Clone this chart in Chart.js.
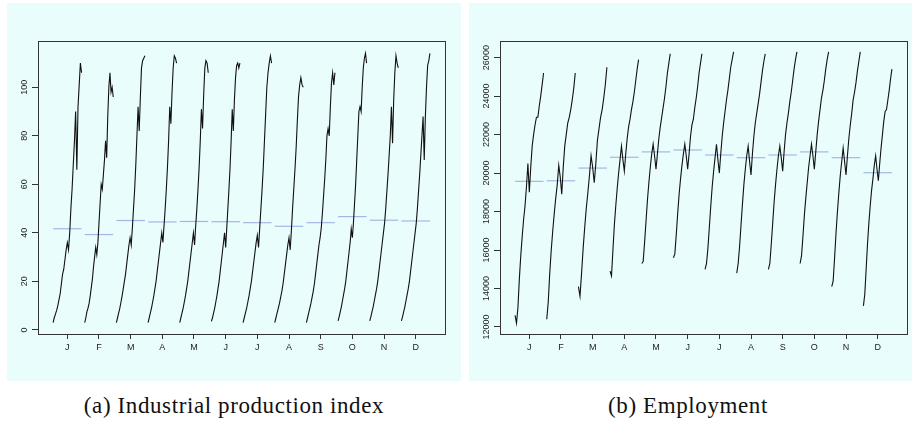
<!DOCTYPE html>
<html>
<head>
<meta charset="utf-8">
<script src="https://cdn.jsdelivr.net/npm/chart.js@4"></script>
<style>
  body { margin: 0; background: #fff; width: 912px; height: 425px; position: relative; overflow: hidden; }
  .panel { position: absolute; top: 3px; height: 378px; background: #e9fdfd; }
  #p1 { left: 7px; width: 454px; }
  #p2 { left: 469px; width: 443px; }
  .cap { position: absolute; top: 393px; font-family: "Liberation Serif", serif; font-size: 23px; letter-spacing: 0.6px;
         color: #111; white-space: nowrap; transform: translateX(-50%); }
</style>
</head>
<body>
<div class="panel" id="p1"><canvas id="ipChart" width="454" height="378"></canvas></div>
<div class="panel" id="p2"><canvas id="empChart" width="443" height="378"></canvas></div>
<div class="cap" style="left:234px">(a) Industrial production index</div>
<div class="cap" style="left:688px">(b) Employment</div>
<script>
// month labels on the x axis
const months = ['J', 'F', 'M', 'A', 'M', 'J', 'J', 'A', 'S', 'O', 'N', 'D'];

// (a) industrial production index, one subseries per month
const ipJan = [3, 5, 6.5, 8, 10, 12.5, 15, 19, 23, 25, 29, 33, 36, 33, 40, 50, 58, 68, 78, 90, 66, 92, 101, 110, 106];
const ipFeb = [3, 5, 7.5, 9, 11, 14, 17.5, 21, 26, 30, 34, 31, 36, 44, 52, 60, 58, 64, 70, 78, 71, 88, 100, 106, 98, 100, 96];
const ipMar = [3, 5, 7, 9, 11.5, 14, 17, 20, 23, 27, 31, 35, 38, 35, 42, 50, 58, 68, 80, 92, 82, 96, 108, 111, 112, 113];
const ipApr = [3, 5, 7, 9, 11.5, 14, 17, 20, 24, 28, 32, 36, 40, 36, 43, 50, 58, 67, 78, 92, 85, 98, 108, 113, 112, 110];
const ipMay = [3, 5, 7, 9, 11.5, 14, 17, 20, 24, 28, 32, 36, 40, 35, 43, 50, 58, 67, 78, 91, 83, 97, 108, 111, 110, 106];
const ipJun = [3.5, 5, 7, 9, 11.5, 14, 17, 20, 24, 28, 32, 36, 40, 34, 42, 50, 58, 67, 78, 91, 82, 95, 104, 109, 110, 108, 110];
const ipJul = [3, 5, 7, 9, 11.5, 14, 17, 20, 24, 28, 32, 36, 39, 34, 42, 50, 58, 67, 78, 89, 100, 106, 110, 113, 110];
const ipAug = [3, 5, 7, 9, 11, 13.5, 16, 19, 23, 27, 31, 35, 38, 33, 41, 50, 58, 66, 75, 86, 96, 101, 104, 101, 100];
const ipSep = [3, 5, 7, 9, 11, 13.5, 16, 19, 23, 27, 31, 35, 38, 42, 48, 55, 62, 70, 80, 83, 80, 92, 102, 106, 101, 106];
const ipOct = [3.7, 5.5, 7.5, 9.5, 12, 14.5, 17, 20, 24, 28, 32, 36, 41.6, 38, 44, 52, 60, 70, 80, 90, 92, 90, 100, 108, 112, 114, 110];
const ipNov = [3.7, 5.5, 7.5, 9.5, 12, 14.5, 17, 20, 24, 28, 32, 36, 40, 44, 50, 57, 64, 72, 80, 92, 77, 95, 106, 113, 110, 108];
const ipDec = [3.7, 5.5, 7.5, 9.5, 12, 14.5, 17, 20, 24, 28, 32, 36, 40, 44, 50, 57, 64, 72, 80, 88, 70, 88, 100, 109, 111, 114];
const ipMeans = [41.7, 39.3, 45.1, 44.5, 44.7, 44.6, 44.2, 42.7, 44.2, 46.7, 45.2, 44.9];
const ipTicks = [0, 20, 40, 60, 80, 100];

// (b) employment
const empJan = [12600, 12200, 13000, 14500, 15700, 16700, 17600, 18300, 19300, 20500, 19000, 20300, 21400, 22000, 22500, 22900, 22900, 23500, 24000, 24600, 25200];
const empFeb = [12400, 13300, 14800, 16000, 17000, 17900, 18700, 19400, 20400, 19800, 18900, 20300, 21400, 22000, 22600, 22900, 23300, 23800, 24400, 25200];
const empMar = [14100, 13600, 14800, 16100, 17200, 18200, 19000, 19900, 20900, 20300, 19500, 20500, 21700, 22300, 22900, 23300, 23900, 24600, 25500];
const empApr = [14900, 14650, 16000, 17300, 18300, 19200, 20000, 20700, 21400, 20700, 20100, 21000, 21800, 22400, 22800, 23300, 23700, 24200, 24800, 25400, 25900];
const empMay = [15300, 15400, 16400, 17500, 18600, 19500, 20300, 21000, 21500, 20900, 20200, 21000, 21800, 22400, 22900, 23400, 23900, 24500, 25200, 25700, 26200];
const empJun = [15600, 15800, 16800, 17900, 18900, 19700, 20400, 21000, 21500, 20900, 20200, 21000, 21900, 22500, 22800, 23400, 23900, 24500, 25200, 25700, 26200];
const empJul = [15000, 15300, 16100, 17200, 18300, 19300, 20100, 20800, 21500, 20700, 20000, 21000, 21900, 22600, 23200, 23800, 24300, 24900, 25500, 25900, 26300];
const empAug = [14800, 15300, 16200, 17300, 18400, 19400, 20200, 20900, 21400, 20600, 19900, 21000, 21900, 22600, 23100, 23600, 24100, 24700, 25300, 25800, 26200];
const empSep = [15000, 15300, 16300, 17400, 18500, 19400, 20200, 20900, 21400, 20800, 20100, 21100, 22000, 22600, 23100, 23700, 24200, 24800, 25400, 25900, 26300];
const empOct = [15300, 15700, 16700, 17800, 18700, 19500, 20300, 20900, 21500, 20900, 20200, 21100, 22000, 22700, 23300, 23900, 24300, 24800, 25400, 25900, 26300];
const empNov = [14100, 14400, 15600, 16900, 18000, 19000, 19900, 20600, 21300, 20600, 19900, 20900, 21800, 22500, 23100, 23800, 24200, 24700, 25300, 25800, 26300];
const empDec = [13100, 13700, 15000, 16300, 17400, 18300, 19100, 19700, 20400, 20900, 20200, 19600, 20500, 21300, 22000, 22700, 23200, 23300, 23800, 24300, 24900, 25400];
const empMeans = [19570, 19600, 20260, 20820, 21100, 21200, 20940, 20800, 20940, 21100, 20800, 20020];
const empTicks = [12000, 14000, 16000, 18000, 20000, 22000, 24000, 26000];

const ipSeries = [ipJan, ipFeb, ipMar, ipApr, ipMay, ipJun, ipJul, ipAug, ipSep, ipOct, ipNov, ipDec];
const empSeries = [empJan, empFeb, empMar, empApr, empMay, empJun, empJul, empAug, empSep, empOct, empNov, empDec];

// box round the plot + vertical y tick labels (like R's las=0)
const boxPlugin = {
  id: 'box',
  afterDraw(chart, args, opts) {
    const ctx = chart.ctx;
    const a = chart.chartArea;
    ctx.save();
    ctx.strokeStyle = '#333';
    ctx.lineWidth = 1;
    ctx.strokeRect(Math.round(a.left) + 0.5, Math.round(a.top) + 0.5,
                   Math.round(a.right - a.left), Math.round(a.bottom - a.top));
    const ys = chart.scales.y;
    ctx.fillStyle = '#222';
    ctx.font = '9px "Liberation Sans", Arial, sans-serif';
    ctx.textAlign = 'center';
    ctx.textBaseline = 'middle';
    opts.ticks.forEach(v => {
      ctx.save();
      ctx.translate(a.left - opts.offset, ys.getPixelForValue(v));
      ctx.rotate(-Math.PI / 2);
      ctx.fillText(String(v), 0, 0);
      ctx.restore();
    });
    ctx.restore();
  }
};

function makePanel(id, series, means, yTicks, yMin, yMax, rightPad) {
  const datasets = [];
  series.forEach((vals, i) => {
    const n = vals.length;
    datasets.push({
      data: vals.map((v, k) => ({ x: i + 1 - 0.45 + 0.9 * k / (n - 1), y: v })),
      showLine: true, borderColor: '#111', borderWidth: 1.1, pointRadius: 0, order: 0
    });
    datasets.push({
      data: [{ x: i + 0.55, y: means[i] }, { x: i + 1.45, y: means[i] }],
      showLine: true, borderColor: 'rgba(150,165,220,0.8)', borderWidth: 1.2, pointRadius: 0, order: 1
    });
  });

  new Chart(document.getElementById(id), {
    type: 'scatter',
    data: { datasets: datasets },
    options: {
      responsive: false,
      animation: false,
      events: [],
      layout: { padding: { top: 38, right: rightPad, left: 0, bottom: 0 } },
      plugins: {
        legend: { display: false },
        tooltip: { enabled: false },
        box: { ticks: yTicks, offset: 13 }
      },
      scales: {
        x: {
          type: 'linear', min: 0.074, max: 12.926,
          afterBuildTicks: s => { s.ticks = months.map((m, i) => ({ value: i + 1 })); },
          afterFit: s => { s.height = 47; },
          ticks: {
            callback: (v, idx) => months[idx],
            font: { family: 'Liberation Sans', size: 9 }, color: '#222',
            padding: 3, maxRotation: 0, autoSkip: false
          },
          grid: { display: true, drawOnChartArea: false, drawTicks: true, tickLength: 5, color: '#333' },
          border: { display: true, color: '#333' }
        },
        y: {
          type: 'linear', min: yMin, max: yMax,
          afterBuildTicks: s => { s.ticks = yTicks.map(v => ({ value: v })); },
          afterFit: s => { s.width = 31; },
          ticks: { display: false },
          grid: { display: true, drawOnChartArea: false, drawTicks: true, tickLength: 6, color: '#333' },
          border: { display: true, color: '#333' }
        }
      }
    },
    plugins: [boxPlugin]
  });
}

makePanel('ipChart', ipSeries, ipMeans, ipTicks, -1.7, 119.1, 16);
makePanel('empChart', empSeries, empMeans, empTicks, 11636, 26864, 5);
</script>
</body>
</html>
